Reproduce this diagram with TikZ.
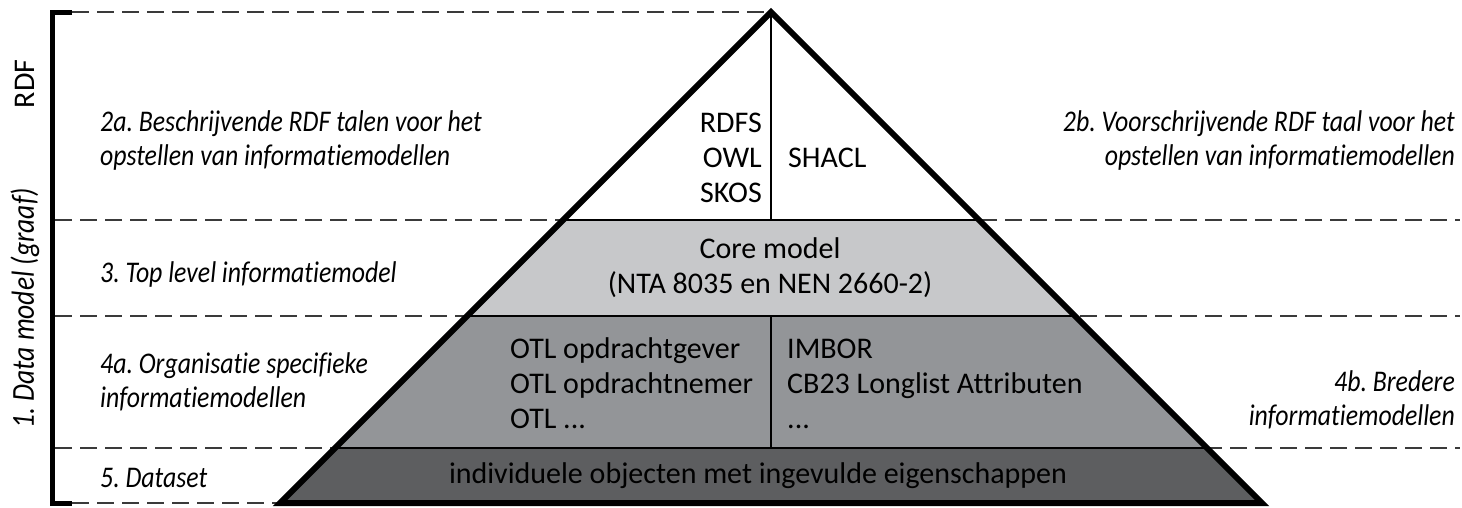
\documentclass[tikz,border=0pt]{standalone}
\usepackage{fontspec}
\setmainfont{Carlito}[Ligatures=NoCommon]
\newfontfamily\labfont{Carlito}[Ligatures=NoCommon, FakeStretch=0.86]
\definecolor{coreg}{HTML}{C7C8CA}
\definecolor{midg}{HTML}{939598}
\definecolor{darkg}{HTML}{5D5E60}
\definecolor{dashc}{HTML}{3A3A3A}
\frenchspacing
\begin{document}
\begin{tikzpicture}[x=1pt,y=-1pt,
  txt/.style={font=\fontsize{30}{36}\selectfont, inner sep=0pt},
  lab/.style={font=\labfont\fontsize{30}{36}\selectfont\itshape, inner sep=0pt},
  guide/.style={dashc, line width=1.4pt, dash pattern=on 17pt off 8pt},
  thin/.style={black, line width=2pt},
  outline/.style={black, line width=6pt, line join=miter},
  bracket/.style={black, line width=5pt}]
\useasboundingbox (0,0) rectangle (1462,507);
% key points
\coordinate (A) at (771,12);
\coordinate (BL) at (280,503);
\coordinate (BR) at (1262,503);
\coordinate (L1) at (563,220); \coordinate (R1) at (979,220);
\coordinate (L2) at (467,316); \coordinate (R2) at (1075,316);
\coordinate (L3) at (335,448); \coordinate (R3) at (1207,448);
\coordinate (M1) at (771,220);
\coordinate (M2) at (771,316); \coordinate (M3) at (771,448);
% bracket ends and guide ends
\coordinate (kt) at (72,12); \coordinate (kb) at (72,503);
\coordinate (g1l) at (55,220); \coordinate (g1r) at (1460,220);
\coordinate (g2l) at (55,316); \coordinate (g2r) at (1460,316);
\coordinate (g3l) at (55,448); \coordinate (g3r) at (1460,448);
% dashed guides
\draw[guide] (kt) -- (A);
\draw[guide] (kb) -- (BL);
\draw[guide] (g1l) -- (g1r);
\draw[guide] (g2l) -- (g2r);
\draw[guide] (g3l) -- (g3r);
% layers
\fill[white] (A) -- (R1) -- (L1) -- cycle;
\fill[coreg] (L1) -- (R1) -- (R2) -- (L2) -- cycle;
\fill[midg] (L2) -- (R2) -- (R3) -- (L3) -- cycle;
\fill[darkg] (L3) -- (R3) -- (BR) -- (BL) -- cycle;
\draw[thin] (L1) -- (R1);
\draw[thin] (L2) -- (R2);
\draw[thin] (L3) -- (R3);
\draw[thin] (A) -- (M1);
\draw[thin] (M2) -- (M3);
\draw[outline] (A) -- (BR) -- (BL) -- cycle;
% left bracket
\draw[bracket] (kt) -- (52,12) -- (52,503) -- (kb);
% rotated labels
\node[txt, rotate=90] (rdf) at (25,84) {RDF};
\node[lab, rotate=90, font=\labfont\fontsize{32}{38}\selectfont\itshape] (dm) at (25,308) {1. Data model (graaf)};
% left labels
\node[lab, anchor=base west] (l2a1) at (100,131) {2a. Beschrijvende RDF talen voor het};
\node[lab, anchor=base west] (l2a2) at (100,165) {opstellen van informatiemodellen};
\node[lab, anchor=base west] (l3) at (100,282) {3. Top level informatiemodel};
\node[lab, anchor=base west] (l4a1) at (100,373) {4a. Organisatie specifieke};
\node[lab, anchor=base west] (l4a2) at (100,407) {informatiemodellen};
\node[lab, anchor=base west] (l5) at (100,487) {5. Dataset};
% right labels
\node[lab, anchor=base east] (l2b1) at (1455,131) {2b. Voorschrijvende RDF taal voor het};
\node[lab, anchor=base east] (l2b2) at (1455,165) {opstellen van informatiemodellen};
\node[lab, anchor=base east] (l4b1) at (1455,391) {4b. Bredere};
\node[lab, anchor=base east] (l4b2) at (1455,425) {informatiemodellen};
% pyramid texts
\node[txt, anchor=base east] (rdfs) at (762,132) {RDFS};
\node[txt, anchor=base east] (owl) at (762,167) {OWL};
\node[txt, anchor=base east] (skos) at (762,202) {SKOS};
\node[txt, anchor=base west] (shacl) at (788,167) {SHACL};
\node[txt, anchor=base] (core1) at (770,258) {Core model};
\node[txt, anchor=base] (core2) at (770,293) {(NTA 8035 en NEN 2660-2)};
\node[txt, anchor=base west] (otl1) at (510,358) {OTL opdrachtgever};
\node[txt, anchor=base west] (otl2) at (510,393) {OTL opdrachtnemer};
\node[txt, anchor=base west] (otl3) at (510,428) {OTL ...};
\node[txt, anchor=base west] (imb1) at (787,358) {IMBOR};
\node[txt, anchor=base west] (imb2) at (787,393) {CB23 Longlist Attributen};
\node[txt, anchor=base west] (imb3) at (787,428) {...};
\node[txt, anchor=base] (ds) at (758,483) {individuele objecten met ingevulde eigenschappen};
\end{tikzpicture}
\end{document}
